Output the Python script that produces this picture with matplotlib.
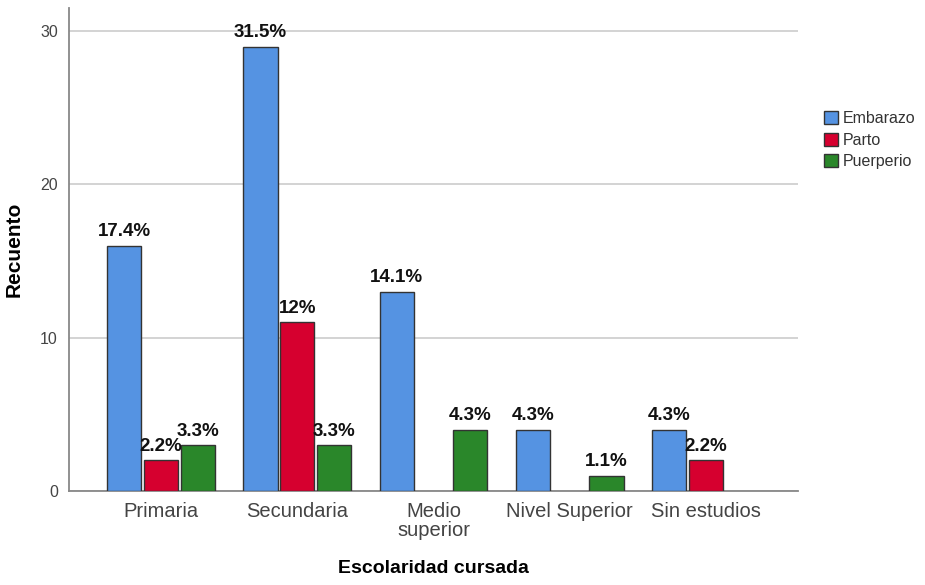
import matplotlib.pyplot as plt
import numpy as np

plt.rcParams['font.family'] = ['Liberation Sans', 'DejaVu Sans']

niveles = ['Primaria', 'Secundaria', 'Medio\nsuperior', 'Nivel Superior', 'Sin estudios']
etapas = ['Embarazo', 'Parto', 'Puerperio']
embarazo = [16, 29, 13, 4, 4]
parto = [2, 11, 0, 0, 2]
puerperio = [3, 3, 4, 1, 0]
colores = ['#5593e2', '#d6002f', '#2a872a']

series = [embarazo, parto, puerperio]
total = sum(sum(s) for s in series)

def pct(v):
    s = '%.1f' % (100.0 * v / total)
    if s.endswith('.0'):
        s = s[:-2]
    return s + '%'

fig = plt.figure(figsize=(9.25, 5.85), dpi=100)
ax = fig.add_axes([0.0746, 0.1607, 0.7881, 0.8253])

x = np.arange(len(niveles))
w = 0.25
step = 0.27
for i, (vals, nombre, col) in enumerate(zip(series, etapas, colores)):
    pos = x + (i - 1) * step
    v = np.array(vals, dtype=float)
    mask = v > 0
    ax.bar(pos[mask], v[mask], width=w, color=col, edgecolor='#333333',
           linewidth=1.0, label=nombre, zorder=3)
    for p, val in zip(pos[mask], v[mask]):
        ax.text(p, val + 0.35, pct(val), ha='center', va='bottom',
                fontsize=13.5, fontweight='bold', color='#111111', zorder=4)

ax.set_xlim(-0.676, 4.676)
ax.set_ylim(0, 31.5)
ax.set_yticks([0, 10, 20, 30])
ax.set_xticks(x)
ax.set_xticklabels(niveles, fontsize=14.5, color='#444444', linespacing=1.0)
ax.tick_params(axis='y', labelsize=11.5, labelcolor='#444444', length=0, pad=8)
ax.tick_params(axis='x', length=0, pad=8)
ax.grid(axis='y', color='#cccccc', linewidth=1.2, zorder=0)
for s in ['top', 'right']:
    ax.spines[s].set_visible(False)
for s in ['left', 'bottom']:
    ax.spines[s].set_color('#888888')
    ax.spines[s].set_linewidth(1.3)

ax.set_ylabel('Recuento', fontsize=15, fontweight='bold', labelpad=12)
ax.set_xlabel('Escolaridad cursada', fontsize=14, fontweight='bold', labelpad=14)

leg = ax.legend(loc='upper left', bbox_to_anchor=(1.027, 0.80), frameon=False,
                fontsize=11.5, handlelength=0.9, handleheight=0.9,
                handletextpad=0.25, labelspacing=0.4, borderaxespad=0)
for t in leg.get_texts():
    t.set_color('#333333')

fig.savefig('out.png', dpi=100)
